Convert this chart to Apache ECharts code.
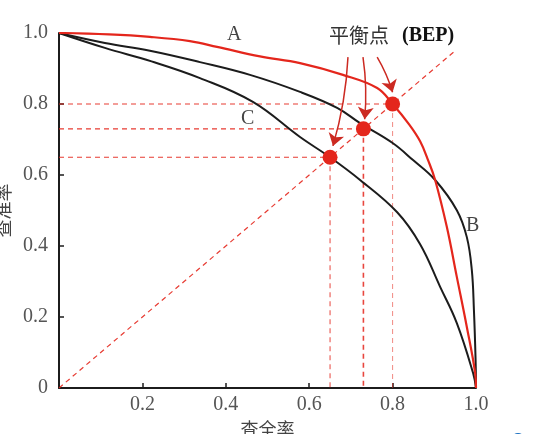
<!DOCTYPE html>
<html>
<head>
<meta charset="utf-8">
<script src="https://cdn.jsdelivr.net/npm/echarts@6/dist/echarts.min.js"></script>
<style>html,body{margin:0;padding:0;background:#fff;}#chart{width:533px;height:434px;}</style>
</head>
<body>
<div id="chart"></div>
<script>
// Curve A (red)
const recallA    = [0, 0.120, 0.218, 0.314, 0.379, 0.482, 0.578, 0.681, 0.763, 0.80, 0.840, 0.866, 0.885, 0.902, 0.930, 0.954, 0.978, 0.998, 1.0];
const precisionA = [1, 0.996, 0.989, 0.977, 0.961, 0.934, 0.915, 0.882, 0.845, 0.80, 0.742, 0.695, 0.642, 0.586, 0.454, 0.313, 0.172, 0.042, 0.0];
// Curve B (outer black)
const recallB    = [0, 0.110, 0.218, 0.338, 0.458, 0.578, 0.667, 0.722, 0.800, 0.849, 0.902, 0.954, 0.978, 0.990, 0.995, 0.999, 1.0];
const precisionB = [1, 0.972, 0.950, 0.918, 0.882, 0.834, 0.789, 0.746, 0.690, 0.642, 0.586, 0.501, 0.425, 0.332, 0.220, 0.080, 0.0];
// Curve C (inner black)
const recallC    = [0, 0.110, 0.222, 0.338, 0.465, 0.578, 0.65, 0.722, 0.811, 0.866, 0.914, 0.954, 0.993, 1.0];
const precisionC = [1, 0.958, 0.920, 0.873, 0.806, 0.707, 0.65, 0.586, 0.495, 0.405, 0.285, 0.183, 0.042, 0.0];
// Break-even points
const bepRecall    = [0.80, 0.73, 0.65];
const bepPrecision = [0.80, 0.73, 0.65];
// Diagonal P = R
const diagX = [0, 0.95];
const diagY = [0, 0.95];
// Arrow annotations (start -> end, data space)
const arrowStart = [[0.693, 0.932], [0.729, 0.932], [0.763, 0.932]];
const arrowEnd   = [[0.657, 0.682], [0.733, 0.757], [0.800, 0.833]];
// Tick labels
const xTicks = ['0.2', '0.4', '0.6', '0.8', '1.0'];
const yTicks = ['0', '0.2', '0.4', '0.6', '0.8', '1.0'];

const RED = '#e4261c';
const BLACK = '#1c1c1c';
const zip = (a, b) => a.map((v, i) => [v, b[i]]);
const serif = '"Liberation Serif", "DejaVu Serif", serif';
const cjk = '"Noto Sans CJK SC", sans-serif';

const guideSeries = [];
bepRecall.forEach((x, i) => {
  const y = bepPrecision[i];
  guideSeries.push({
    type: 'line', data: [[0, y], [x, y]], symbol: 'none', silent: true, z: 1,
    lineStyle: { color: RED, width: 1.2, type: [5, 4], opacity: 0.9 }
  });
  guideSeries.push({
    type: 'line', data: [[x, y], [x, 0]], symbol: 'none', silent: true, z: 1,
    lineStyle: { color: RED, width: i === 1 ? 1.6 : 1, type: [5, 4], opacity: i === 0 ? 0.55 : 0.85 }
  });
});

const chart = echarts.init(document.getElementById('chart'));
chart.setOption({
  animation: false,
  backgroundColor: '#fff',
  grid: { left: 59, right: 57, top: 33, bottom: 46, containLabel: false, outerBoundsMode: 'none' },
  xAxis: {
    type: 'value', min: 0, max: 1, interval: 0.2,
    name: '查全率', nameLocation: 'middle', nameGap: 28,
    nameTextStyle: { fontFamily: cjk, fontSize: 18, color: '#444' },
    axisLine: { show: true, lineStyle: { color: BLACK, width: 2 } },
    axisTick: { show: true, inside: true, length: 5, lineStyle: { color: BLACK, width: 1.5 } },
    axisLabel: {
      fontFamily: serif, fontSize: 20, color: '#555', margin: 7,
      formatter: v => { const i = Math.round(v / 0.2) - 1; return i >= 0 ? xTicks[i] : ''; }
    },
    splitLine: { show: false }
  },
  yAxis: {
    type: 'value', min: 0, max: 1, interval: 0.2,
    name: '查准率', nameLocation: 'middle', nameGap: 42, nameRotate: 90,
    nameTextStyle: { fontFamily: cjk, fontSize: 18, color: '#444' },
    axisLine: { show: true, lineStyle: { color: BLACK, width: 2 } },
    axisTick: { show: true, inside: true, length: 5, lineStyle: { color: BLACK, width: 1.5 } },
    axisLabel: {
      fontFamily: serif, fontSize: 20, color: '#555', margin: 11,
      formatter: v => yTicks[Math.round(v / 0.2)]
    },
    splitLine: { show: false }
  },
  series: [
    {
      type: 'line', data: zip(diagX, diagY), symbol: 'none', silent: true, z: 1,
      lineStyle: { color: RED, width: 1.2, type: [5, 4], opacity: 0.9 }
    },
    ...guideSeries,
    {
      name: 'C', type: 'line', data: zip(recallC, precisionC), symbol: 'none', smooth: 0.4, z: 3,
      lineStyle: { color: BLACK, width: 2 }
    },
    {
      name: 'B', type: 'line', data: zip(recallB, precisionB), symbol: 'none', smooth: 0.4, z: 3,
      lineStyle: { color: BLACK, width: 2 }
    },
    {
      name: 'A', type: 'line', data: zip(recallA, precisionA), symbol: 'none', smooth: 0.4, z: 4,
      lineStyle: { color: RED, width: 2.2 }
    },
    {
      type: 'scatter', data: zip(bepRecall, bepPrecision), symbolSize: 15, z: 6,
      itemStyle: { color: RED, opacity: 1 }
    },
    {
      type: 'lines', coordinateSystem: 'cartesian2d', z: 5,
      symbol: ['none', 'arrow'], symbolSize: [0, 12],
      lineStyle: { color: '#cc2a22', width: 1.5, curveness: 0.06, opacity: 1 },
      data: arrowStart.map((s, i) => ({ coords: [s, arrowEnd[i]] }))
    }
  ],
  graphic: [
    { type: 'text', left: 227, top: 25, style: { text: 'A', font: '20px ' + serif, fill: '#444' } },
    { type: 'text', left: 241, top: 109, style: { text: 'C', font: '20px ' + serif, fill: '#444' } },
    { type: 'text', left: 466, top: 216, style: { text: 'B', font: '20px ' + serif, fill: '#444' } },
    { type: 'text', left: 329, top: 25, style: { text: '平衡点', font: '20px ' + cjk, fill: '#333' } },
    { type: 'text', left: 402, top: 26, style: { text: '(BEP)', font: 'bold 20px ' + serif, fill: '#111' } },
    { type: 'circle', shape: { cx: 518, cy: 440, r: 7 }, style: { fill: '#1a6fc0' } }
  ]
});
</script>
</body>
</html>
